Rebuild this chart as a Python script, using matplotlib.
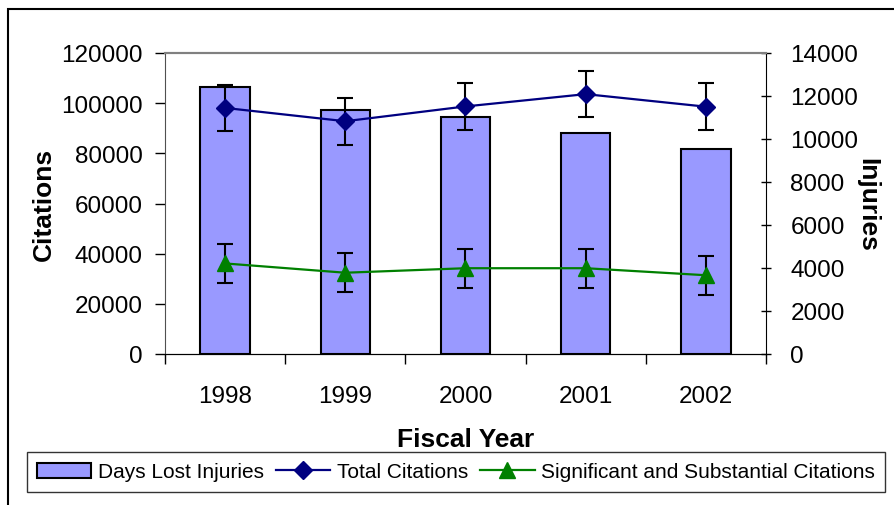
import matplotlib
matplotlib.use("Agg")
import matplotlib.pyplot as plt
from matplotlib.patches import Rectangle

plt.rcParams['font.family'] = ['Liberation Sans', 'DejaVu Sans']

years = ['1998', '1999', '2000', '2001', '2002']
days_lost_injuries = [12430, 11360, 11040, 10260, 9520]
total_citations = [98100, 92800, 98700, 103600, 98600]
total_err = [9300, 9300, 9300, 9300, 9300]
ss_citations = [36100, 32400, 34200, 34200, 31400]
ss_err = [7800, 7800, 7800, 7800, 7800]
series_names = ['Days Lost Injuries', 'Total Citations', 'Significant and Substantial Citations']

x = list(range(len(years)))

fig = plt.figure(figsize=(8.95, 5.06), dpi=100)
ax = fig.add_axes([165 / 895, 1 - 355 / 506, (766 - 165) / 895, (355 - 54) / 506])
ax2 = ax.twinx()

# bars sit behind the lines
ax.set_zorder(2)
ax.patch.set_visible(False)
ax2.set_zorder(1)

bars = ax2.bar(x, days_lost_injuries, width=0.41, color='#9999ff',
               edgecolor='black', linewidth=1.5)

l1 = ax.errorbar(x, total_citations, yerr=total_err, color='#000080', lw=1.6,
                 marker='D', ms=9, ecolor='black', elinewidth=1.5, capsize=5.5,
                 capthick=1.5)
l2 = ax.errorbar(x, ss_citations, yerr=ss_err, color='#008000', lw=1.6,
                 marker='^', ms=11, ecolor='black', elinewidth=1.5, capsize=5.5,
                 capthick=1.5)

ax.set_xlim(-0.5, len(years) - 0.5)
ax.set_ylim(0, 120000)
ax2.set_ylim(0, 14000)
ax.set_yticks(range(0, 120001, 20000))
ax2.set_yticks(range(0, 14001, 2000))

ax.set_xticks(x)
ax.set_xticklabels(years)
ax.set_xticks([i - 0.5 for i in range(len(years) + 1)], minor=True)
ax.tick_params(axis='x', which='major', length=0, labelsize=17.5, pad=22)
ax.tick_params(axis='x', which='minor', length=7, width=1, direction='out')
ax.tick_params(axis='y', length=7, width=1, direction='out', labelsize=17.5, pad=9)
ax2.tick_params(axis='y', length=7, width=1, direction='inout', labelsize=17.5, pad=14)

ax.spines['top'].set_color('#808080')
ax2.spines['top'].set_color('#808080')
ax.spines['top'].set_linewidth(1.5)
ax2.spines['top'].set_linewidth(1.5)
ax.spines['left'].set_color('#505050')
ax2.spines['left'].set_visible(False)
ax.spines['right'].set_visible(False)
ax2.spines['right'].set_color('black')

ax.set_ylabel('Citations', fontsize=19, fontweight='bold', labelpad=4)
ax2.set_ylabel('Injuries', fontsize=19, fontweight='bold', rotation=-90, labelpad=15)
ax.set_xlabel('Fiscal Year', fontsize=19, fontweight='bold', labelpad=15)

leg = fig.legend([bars, l1[0], l2[0]], series_names, loc='center',
                 bbox_to_anchor=(456 / 895, 1 - 473 / 506),
                 ncol=3, fontsize=15, frameon=True, fancybox=False, edgecolor='black',
                 handlelength=2.6, handletextpad=0.3, columnspacing=0.6, borderpad=0.5,
                 borderaxespad=0)
leg.get_frame().set_linewidth(1)

# outer chart border
fig.patches.append(Rectangle((8 / 895, -0.05), 1.0, 1 - 10 / 506 + 0.05, transform=fig.transFigure,
                             fill=False, edgecolor='black', linewidth=1.5))

fig.savefig('out.png', dpi=100)
